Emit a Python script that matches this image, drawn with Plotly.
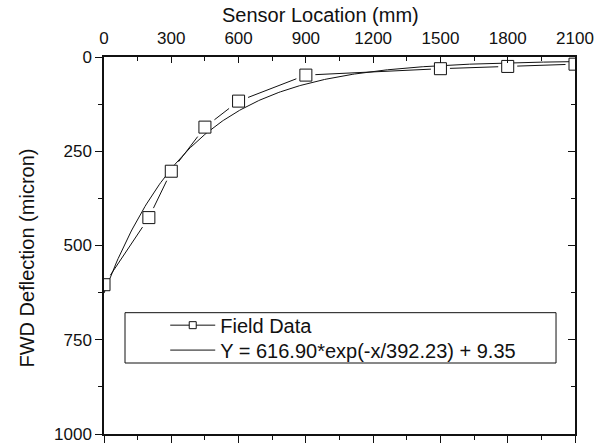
import numpy as np
import plotly.graph_objects as go

# Field measurements: FWD sensor offsets and measured deflections
sensor_mm = [0, 200, 300, 450, 600, 900, 1500, 1800, 2100]
deflection_um = [604, 426, 303, 186, 117, 48, 31, 25, 19]

# Exponential fit parameters: Y = A*exp(-x/B) + C
fit_A, fit_B, fit_C = 616.90, 392.23, 9.35
fit_label = "Y = 616.90*exp(-x/392.23) + 9.35"

x_ticks = [0, 300, 600, 900, 1200, 1500, 1800, 2100]
y_ticks = [0, 250, 500, 750, 1000]

x_fit = np.linspace(0, 2100, 300)
y_fit = fit_A * np.exp(-x_fit / fit_B) + fit_C

FONT = "Liberation Sans, Arial, sans-serif"
BLACK = "#111111"

fig = go.Figure()

# connecting polyline of the measurements
fig.add_trace(go.Scatter(x=sensor_mm, y=deflection_um, mode="lines",
                         line=dict(color=BLACK, width=1), showlegend=False,
                         hoverinfo="skip"))
# white halo that opens a small gap between the polyline and each square
fig.add_trace(go.Scatter(x=sensor_mm, y=deflection_um, mode="markers",
                         marker=dict(symbol="square", size=19, color="white",
                                     line=dict(width=0)),
                         showlegend=False, hoverinfo="skip"))
# fitted curve
fig.add_trace(go.Scatter(x=x_fit, y=y_fit, mode="lines",
                         line=dict(color=BLACK, width=1), name=fit_label,
                         legend="legend2"))
# square markers
fig.add_trace(go.Scatter(x=sensor_mm, y=deflection_um, mode="markers",
                         marker=dict(symbol="square", size=12, color="white",
                                     line=dict(color=BLACK, width=1)),
                         showlegend=False))
# legend entry for the field data (line + square)
fig.add_trace(go.Scatter(x=[None], y=[None], mode="lines+markers",
                         line=dict(color=BLACK, width=1),
                         marker=dict(symbol="square", size=7, color="white",
                                     line=dict(color=BLACK, width=1)),
                         name="Field Data", legend="legend"))

axis_common = dict(showline=True, linecolor=BLACK, linewidth=1.5,
                   showgrid=False, zeroline=False, tickcolor=BLACK,
                   tickwidth=1.2, automargin=False)

legend_common = dict(xanchor="left", yanchor="middle",
                     bgcolor="rgba(0,0,0,0)", borderwidth=0,
                     font=dict(size=20, family=FONT, color=BLACK),
                     itemwidth=45)

fig.update_layout(
    width=597, height=444,
    margin=dict(l=104, r=22, t=57, b=10),
    paper_bgcolor="white", plot_bgcolor="white",
    font=dict(family=FONT, color=BLACK),
    showlegend=True,
    legend=dict(x=0.13, y=0.2887, **legend_common),
    legend2=dict(x=0.13, y=0.2226, **legend_common),
    xaxis=dict(range=[0, 2100], side="top", ticks="inside", ticklen=6,
               tickmode="array", tickvals=x_ticks,
               ticktext=[str(v) for v in x_ticks], ticklabelstandoff=4,
               ticklabeloverflow="allow",
               tickfont=dict(size=17, family=FONT, color=BLACK),
               minor=dict(ticks="inside", ticklen=4, tickmode="linear",
                          tick0=0, dtick=150, tickcolor=BLACK, tickwidth=1.2),
               **axis_common),
    xaxis2=dict(range=[0, 2100], overlaying="x", side="bottom", anchor="y",
                ticks="outside", ticklen=7, showticklabels=False,
                tickmode="array", tickvals=x_ticks,
                minor=dict(ticks="outside", ticklen=4, tickmode="linear",
                           tick0=0, dtick=150, tickcolor=BLACK, tickwidth=1.2),
                **axis_common),
    yaxis=dict(range=[1000, 0], ticks="outside", ticklen=7,
               tickmode="array", tickvals=y_ticks,
               ticktext=[str(v) for v in y_ticks],
               ticklabeloverflow="allow",
               tickfont=dict(size=17, family=FONT, color=BLACK),
               minor=dict(ticks="outside", ticklen=4, tickmode="linear",
                          tick0=0, dtick=125, tickcolor=BLACK, tickwidth=1.2),
               **axis_common),
    yaxis2=dict(range=[1000, 0], overlaying="y", side="right", anchor="x",
                ticks="inside", ticklen=7, showticklabels=False,
                tickmode="array", tickvals=y_ticks,
                minor=dict(ticks="inside", ticklen=4, tickmode="linear",
                           tick0=0, dtick=125, tickcolor=BLACK, tickwidth=1.2),
                **axis_common),
)

# anchor the secondary axes so their lines/ticks appear
fig.add_trace(go.Scatter(x=[None], y=[None], xaxis="x2", yaxis="y2",
                         showlegend=False, hoverinfo="skip"))

# legend frame
fig.add_shape(type="rect", xref="paper", yref="paper",
              x0=0.0446, x1=0.9597, y0=0.1883, y1=0.3218,
              line=dict(color=BLACK, width=1), fillcolor="white", layer="below")

# axis titles
fig.add_annotation(text="Sensor Location (mm)", xref="paper", yref="paper",
                   x=0.4607, y=1.1115, xanchor="center", yanchor="middle",
                   showarrow=False, font=dict(size=20, family=FONT, color=BLACK))
fig.add_annotation(text="FWD Deflection (micron)", xref="paper", yref="paper",
                   x=-0.1614, y=0.4682, xanchor="center", yanchor="middle",
                   textangle=-90, showarrow=False,
                   font=dict(size=20, family=FONT, color=BLACK))

fig.write_html("out.html")
